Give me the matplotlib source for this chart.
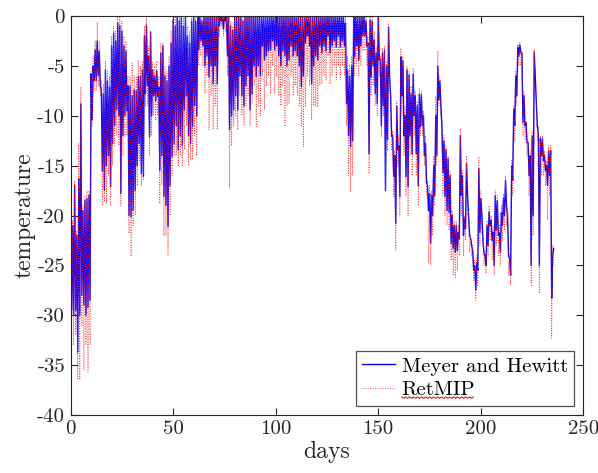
import numpy as np
import matplotlib
matplotlib.use("Agg")
import matplotlib.pyplot as plt
from matplotlib.lines import Line2D
from matplotlib.transforms import IdentityTransform

# ---- data (daily upper / lower envelope) ----
blue_hi = [
 -18.5, -21, -17, -22, -16.3, -8.8, -19.5, -18.5, -18.3, -18,
 -5.8, -5, -3.4, -2.5, -3.5, -7.4, -7.8, -5.4, -6.5, -7.1,
 -3, -1.7, -2.5, -0.7, -1, -1.5, -3, -3.5, -7, -7,
 -8, -7.4, -7.5, -6.1, -6, -5.4, -2, -0.9, -4, -1.6,
 -5.4, -6, -5.5, -7.1, -3.7, -3, -6, -6.5, -5, -2.7,
 -0.4, -1, 0, -0.5, 0, -1, 0, -2, -2.7, -0.5,
 0, -0.5, 0, 0, -0.5, 0, 0, 0, 0, 0,
 0, 0, 0, 0, 0, 0, 0, 0, -1, -1.4,
 0, 0, 0, 0, -0.5, 0, 0, 0, 0, 0,
 0, 0, 0, 0, 0, 0, 0, 0, 0, 0,
 0, 0, 0, 0, 0, 0, 0, 0, 0, 0,
 0, 0, 0, 0, 0, 0, 0, 0, 0, 0,
 0, 0, 0, 0, 0, 0, 0, 0, 0, 0,
 0, 0, 0, 0, -0.7, -5.4, -6, -5, 0, 0,
 0, 0, 0, 0, -0.5, -2.7, -0.4, -0.5, -2.4, -3.7,
 0, -4.4, -3.7, -3.4, -5, -1.1, -8, -12, -14, -9,
 -13, -4.1, -4.5, -10, -5.4, -5.9, -7.8, -5.8, -8, -9,
 -7.8, -7.9, -10, -12.8, -17, -17.8, -18, -15, -10, -5,
 -6.5, -11, -12.5, -13.4, -14.3, -16, -20, -21, -21, -21.7,
 -12, -16, -20.3, -14.8, -20, -22.3, -23.5, -25, -24.7, -15.3,
 -18.3, -22.5, -24, -21, -19.6, -20.5, -21.7, -18, -18.5, -21.7,
 -19.7, -18.3, -16.5, -20, -24.3, -15, -9.4, -6, -3.1, -2.9,
 -3.7, -8, -10.7, -12.7, -14, -12, -3.6, -8.4, -11.7, -12.3,
 -12.3, -14, -15, -13.5, -13.5, -24,
]
blue_lo = [
 -29.5, -30, -29.5, -33.7, -30, -28, -29, -30, -29.2, -28.5,
 -10.4, -6.5, -6.5, -6, -7, -15.5, -17.5, -15, -14, -17.1,
 -12.8, -11, -9.4, -10, -17.8, -12, -10, -9.5, -20, -20.1,
 -19.5, -17.5, -15, -12.8, -15.8, -16.1, -7.8, -7, -12.1, -10,
 -8, -8.5, -8.1, -15.5, -14, -18.1, -19, -21.1, -17, -14.1,
 -12.8, -11, -13.4, -12, -13, -9.4, -8, -12, -12.8, -11.1,
 -9, -10, -3.4, -2.5, -3, -5, -4, -6.1, -5, -6.8,
 -5, -6.8, -1, -0.5, -1.3, -0.5, -4, -11.4, -10, -9.4,
 -8, -9.4, -6, -8, -9, -7, -6, -9.4, -7.8, -5,
 -6.1, -5, -6, -3, -4.4, -4, -3.5, -3.4, -2.5, -3.4,
 -3, -4, -5, -3.5, -4, -5, -4.4, -3, -4, -3.5,
 -4, -5, -7.1, -6, -2.7, -2, -3, -6.8, -5, -4,
 -4.4, -3, -3.7, -3, -3.5, -2, -3.7, -3, -2.5, -3.1,
 -2, -3.1, -2.5, -3, -8.8, -12, -13.1, -12.5, -4.1, -3,
 -4.4, -3, -2, -2, -3, -13.8, -6.1, -5, -7.8, -8.8,
 -4.4, -11, -9, -17.5, -12.4, -6, -12.1, -16.1, -20.8, -13.4,
 -18.1, -8, -12, -16.1, -17.1, -12, -13.8, -10, -13.8, -17,
 -11.1, -11, -14, -16.7, -19.5, -22.8, -20, -18, -14, -8.4,
 -9, -15.7, -18.1, -19.5, -19.7, -22.8, -23.3, -23.7, -23.5, -22.3,
 -18, -22, -21.3, -18, -22, -23, -25.5, -27.5, -25.5, -21.7,
 -20, -23.8, -25, -23, -21, -22.5, -25, -21.5, -22, -23.7,
 -21, -20, -19, -24, -26, -16.5, -11, -8, -4, -3.7,
 -10.7, -11, -12.7, -16, -25, -20, -6, -11, -25, -14,
 -14.5, -15.5, -17, -16, -28.3, -23.3,
]
red_hi = [
 -18, -20.5, -16.5, -21.5, -12.8, -7.1, -19, -18, -17.5, -17.5,
 -5.5, -4, -2.5, -0.6, -2.5, -6.5, -6.8, -4.5, -5.5, -6,
 -2, -1, -1.5, 0, 0, -0.5, -2, -2.5, -6, -6,
 -4.7, -6, -6, -4.4, -5, -4.5, -1, 0, -3, -1.5,
 -4.6, -5, -4.5, -6, -2.7, -2.7, -5, -5.5, -4, -1.4,
 0, 0, 0, 0, 0, 0, 0, -1, -1.5, 0,
 0, 0, 0, 0, 0, 0, 0, 0, 0, 0,
 0, 0, 0, 0, 0, 0, 0, 0, -0.5, -1,
 0, 0, 0, 0, 0, 0, 0, 0, 0, 0,
 0, 0, 0, 0, 0, 0, 0, 0, 0, 0,
 0, 0, 0, 0, 0, 0, 0, 0, 0, 0,
 0, 0, 0, 0, 0, 0, 0, 0, 0, 0,
 0, 0, 0, 0, 0, 0, 0, 0, 0, 0,
 0, 0, 0, 0, 0, -4, -5, -4, 0, 0,
 0, 0, 0, 0, 0, -2, 0, 0, -1.5, -3,
 0, -4, -3.2, -3, -4.5, -0.7, -7.5, -11.5, -13.5, -8.5,
 -12, -3.2, -4, -9, -5, -5.5, -7, -5.2, -7.5, -8.5,
 -7.3, -7.5, -9.5, -12, -16.5, -17, -17.5, -14, -8, -3.5,
 -6, -10.5, -12, -13, -14, -15.5, -19.5, -20.5, -20.5, -21,
 -11.3, -15.5, -20, -14, -19.5, -22, -23, -24.5, -24, -14.1,
 -17.5, -22, -23.5, -20.5, -19, -20, -21, -17.5, -18, -21,
 -19, -17.8, -16, -19.5, -24, -14.5, -9, -5.5, -2.8, -2.6,
 -3.5, -7.5, -10.5, -12.5, -13.5, -11.5, -3.3, -8, -11, -12,
 -12, -13.5, -14.5, -13, -13, -23,
]
red_lo = [
 -33.3, -33, -32, -36.4, -36.5, -31, -35.5, -33, -35.7, -33,
 -11, -7.5, -7.5, -7, -8, -19, -18.5, -18.8, -16, -19,
 -15, -13, -12, -13, -19, -14, -12, -12, -21.8, -24.1,
 -21, -20, -17, -14.5, -17, -16.5, -9, -9, -14, -12,
 -10, -10.5, -10, -18.8, -17, -22.1, -22, -24, -20, -16,
 -14, -14, -15.1, -14, -15.1, -13.4, -11, -15, -14.4, -14.4,
 -12, -14, -5, -4, -5, -7.8, -6, -11.4, -8, -11.4,
 -9, -11.4, -2, -1, -2, -1.5, -6, -17.3, -13, -11.1,
 -10, -11.4, -8, -10, -11, -9, -8, -11, -8.8, -7,
 -11.1, -9, -10, -6, -9.4, -7, -6, -7.8, -5, -7.8,
 -6, -8, -9, -7, -11.1, -9, -8.8, -6, -8, -7,
 -8, -9, -11, -13.1, -9.1, -6, -7, -10.4, -9, -9.1,
 -9.1, -7, -6.8, -6, -6.5, -4, -6.8, -6, -5, -6.4,
 -5, -6.4, -5, -6, -11, -16, -17.6, -16, -6, -5,
 -6, -5, -3.5, -3.5, -5, -15.8, -8, -7, -9, -10,
 -6, -12.1, -10, -17.5, -13.5, -7, -13.5, -18.1, -23.5, -15,
 -20.1, -10, -14, -18.1, -20, -14, -16, -12, -16, -19,
 -12, -12, -15, -18, -24.8, -25, -22, -19, -15, -9,
 -10, -18, -20, -21, -21.5, -24.5, -26, -26.2, -25.5, -24,
 -20, -24.1, -22.5, -20, -23.7, -24, -26.5, -28.5, -27, -23,
 -22, -25, -25.8, -24, -22.5, -24.5, -26, -23, -24, -25,
 -22.5, -21.5, -21, -26, -27, -18, -12.5, -9, -5, -5,
 -12, -12.5, -14, -18, -27, -22, -8, -12.5, -27.8, -16,
 -16, -17, -20.5, -18, -32.3, -25,
]
x_ticks = [0, 50, 100, 150, 200, 250]
y_ticks = [0, -5, -10, -15, -20, -25, -30, -35, -40]
labels = ["Meyer and Hewitt", "RetMIP"]

# ---- build time series: upper value at day d, lower at d + 0.5 ----
n = len(blue_hi)
days = np.arange(n, dtype=float)
t = np.column_stack([days, days + 0.5]).ravel()
blue = np.column_stack([blue_hi, blue_lo]).ravel()
red = np.column_stack([red_hi, red_lo]).ravel()

plt.rcParams["font.family"] = ["cmr10", "DejaVu Serif"]
plt.rcParams["axes.unicode_minus"] = False
plt.rcParams["axes.formatter.use_mathtext"] = True

fig = plt.figure(figsize=(5.98, 4.73), dpi=100)
ax = fig.add_axes([0.118, 0.1226, 0.8577, 0.8434])

ax.plot(t, blue, color="#0000ff", lw=1.0, label=labels[0])
ax.plot(t, red, color="#ff2020", lw=0.6, alpha=0.85, ls=(0, (1.2, 1.8)), label=labels[1])

ax.set_xlim(0, 250)
ax.set_ylim(-40, 0)
ax.set_xticks(x_ticks)
ax.set_xticklabels([str(v) for v in x_ticks])
ax.set_yticks(y_ticks)
ax.set_yticklabels([str(v) for v in y_ticks])
ax.tick_params(direction="in", top=True, right=True, length=5, width=0.8,
               color="#262626", labelsize=15, labelcolor="#262626", pad=4)
for s in ax.spines.values():
    s.set_color("#262626")
    s.set_linewidth(0.8)
ax.set_xlabel("days", fontsize=17, color="#262626", labelpad=2)
ax.set_ylabel("temperature", fontsize=17, color="#262626", labelpad=1)

leg = ax.legend(loc="lower right", fontsize=15, frameon=True, fancybox=False,
                edgecolor="#505050", framealpha=1, borderpad=0.3,
                labelspacing=0.25, handlelength=1.6, handletextpad=0.3,
                borderaxespad=0.45)
leg.get_frame().set_linewidth(0.9)

# red wavy spell-check underline under "RetMIP" seen in the reference
fig.canvas.draw()
r = fig.canvas.get_renderer()
bb = leg.get_texts()[1].get_window_extent(r)
wx = np.arange(bb.x0, bb.x1 + 0.1, 2.0)
wy = bb.y0 + 2.5 + np.where(np.arange(len(wx)) % 2 == 0, 0.0, -1.5)
fig.add_artist(Line2D(wx, wy, color="#e02020", lw=0.8, transform=IdentityTransform()))

fig.savefig("out.png", dpi=100)
